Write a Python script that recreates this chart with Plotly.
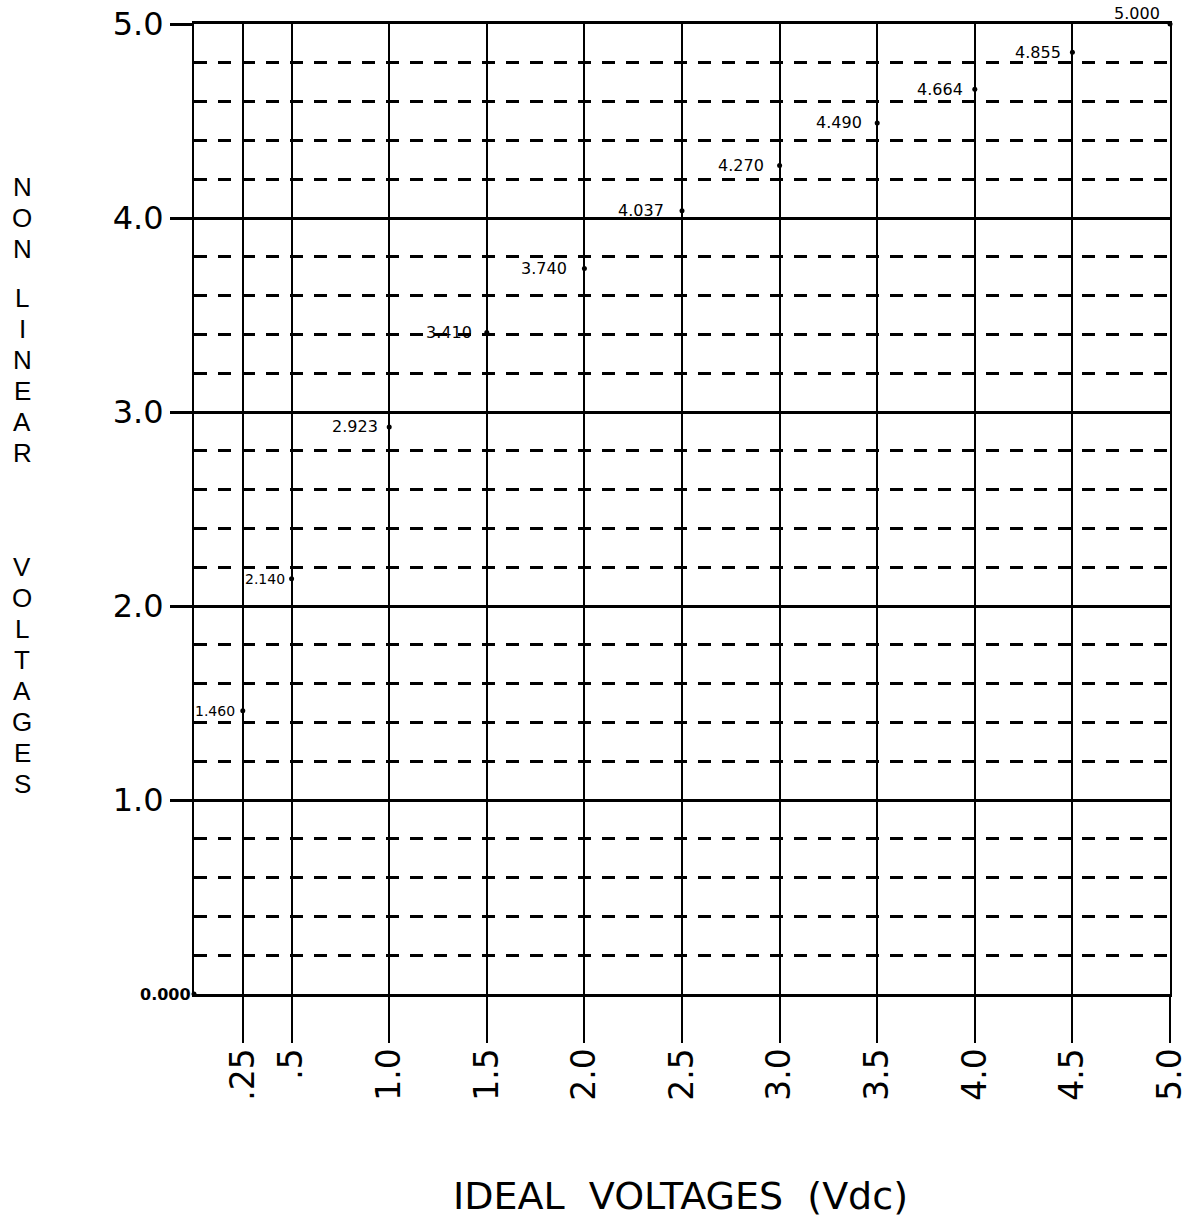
import plotly.graph_objects as go

# ---- data ----
ideal = [0.0, 0.25, 0.5, 1.0, 1.5, 2.0, 2.5, 3.0, 3.5, 4.0, 4.5, 5.0]
nonlinear = [0.000, 1.460, 2.140, 2.923, 3.410, 3.740, 4.037, 4.270, 4.490, 4.664, 4.855, 5.000]
x_tickvals = [0.25, 0.5, 1.0, 1.5, 2.0, 2.5, 3.0, 3.5, 4.0, 4.5, 5.0]
x_ticktext = [".25", ".5", "1.0", "1.5", "2.0", "2.5", "3.0", "3.5", "4.0", "4.5", "5.0"]
y_tickvals = [1, 2, 3, 4, 5]
y_ticktext = ["1.0", "2.0", "3.0", "4.0", "5.0"]
y_minor_vals = [round(i * 0.2, 1) for i in range(1, 25) if i % 5 != 0]
x_title = "IDEAL\u00a0\u00a0VOLTAGES\u00a0\u00a0(Vdc)"
y_title_words = ["NON", "LINEAR", "VOLTAGES"]

# ---- label styling (per point, not data) ----
label_sizes = [16, 14, 14, 16, 16, 16, 16, 16, 16, 16, 16, 16]
label_gaps = [-1, -6, -5, -9, -13, -15, -16, -14, -13, -10, -9, -8]

W, H = 1188, 1229
PL, PT, PW, PH = 194, 24, 976, 970  # plot area on screen
L, T = PL, PT
R = W - L - PW
B = H - T - PH
FONT = "DejaVu Sans, Liberation Sans, sans-serif"

fig = go.Figure()
fig.add_trace(go.Scatter(
    x=ideal, y=nonlinear, mode="markers",
    marker=dict(color="black", size=5),
    cliponaxis=False, showlegend=False, hoverinfo="skip",
))

annotations = []
last = len(ideal) - 1
for i, (xv, yv) in enumerate(zip(ideal, nonlinear)):
    txt = "%.3f" % yv
    if i == 0:
        annotations.append(dict(x=xv, y=yv, xref="x", yref="y", text="<b>" + txt + "</b>",
                                showarrow=False, xanchor="right", yanchor="middle", xshift=label_gaps[i],
                                font=dict(size=label_sizes[i], color="black", family=FONT)))
    elif i == last:
        annotations.append(dict(x=xv, y=yv, xref="x", yref="y", text=txt,
                                showarrow=False, xanchor="right", yanchor="bottom",
                                xshift=label_gaps[i], yshift=-1,
                                font=dict(size=label_sizes[i], color="black", family=FONT)))
    else:
        annotations.append(dict(x=xv, y=yv, xref="x", yref="y", text=txt,
                                showarrow=False, xanchor="right", yanchor="middle", xshift=label_gaps[i],
                                font=dict(size=label_sizes[i], color="black", family=FONT)))

# x title
annotations.append(dict(x=(680 - PL) / PW, y=(PT + PH - 1196) / PH, xref="paper", yref="paper",
                        text=x_title, showarrow=False, xanchor="center", yanchor="middle",
                        font=dict(size=38, color="black", family=FONT)))

# stacked y title letters
word_first_center = [187, 298, 567]
pitch = 31
for word, y0 in zip(y_title_words, word_first_center):
    for k, ch in enumerate(word):
        ypx = y0 + k * pitch
        annotations.append(dict(x=(22 - PL) / PW, y=(PT + PH - ypx) / PH, xref="paper", yref="paper",
                                text=ch, showarrow=False, xanchor="center", yanchor="middle",
                                font=dict(size=26, color="black", family="Liberation Sans, Arial, sans-serif")))

fig.update_layout(
    width=W, height=H,
    margin=dict(l=L, r=R, t=T, b=B, autoexpand=False),
    paper_bgcolor="white", plot_bgcolor="white",
    showlegend=False,
    annotations=annotations,
    xaxis=dict(
        range=[0, 5], tickmode="array", tickvals=x_tickvals, ticktext=x_ticktext,
        tickangle=-90, tickfont=dict(size=33, color="black", family=FONT),
        ticks="outside", ticklen=46, tickwidth=2, tickcolor="black",
        ticklabeloverflow="allow", ticklabelstandoff=-8,
        showgrid=True, gridcolor="black", gridwidth=2,
        showline=True, linecolor="black", linewidth=3, mirror=True,
        zeroline=False, fixedrange=True, automargin=False,
    ),
    yaxis=dict(
        range=[0, 5], tickmode="array", tickvals=y_tickvals, ticktext=y_ticktext,
        tickfont=dict(size=32, color="black", family=FONT),
        ticks="outside", ticklen=22, tickwidth=3, tickcolor="black",
        ticklabeloverflow="allow",
        showgrid=True, gridcolor="black", gridwidth=3,
        showline=True, linecolor="black", linewidth=2, mirror=True,
        zeroline=False, fixedrange=True, automargin=False,
        minor=dict(tickmode="array", tickvals=y_minor_vals, showgrid=True,
                   gridcolor="black", gridwidth=3, griddash="13px,11px", ticks=""),
    ),
)

fig.write_html("out.html", config={"displayModeBar": False},
               post_script="document.body.style.margin='0';")
